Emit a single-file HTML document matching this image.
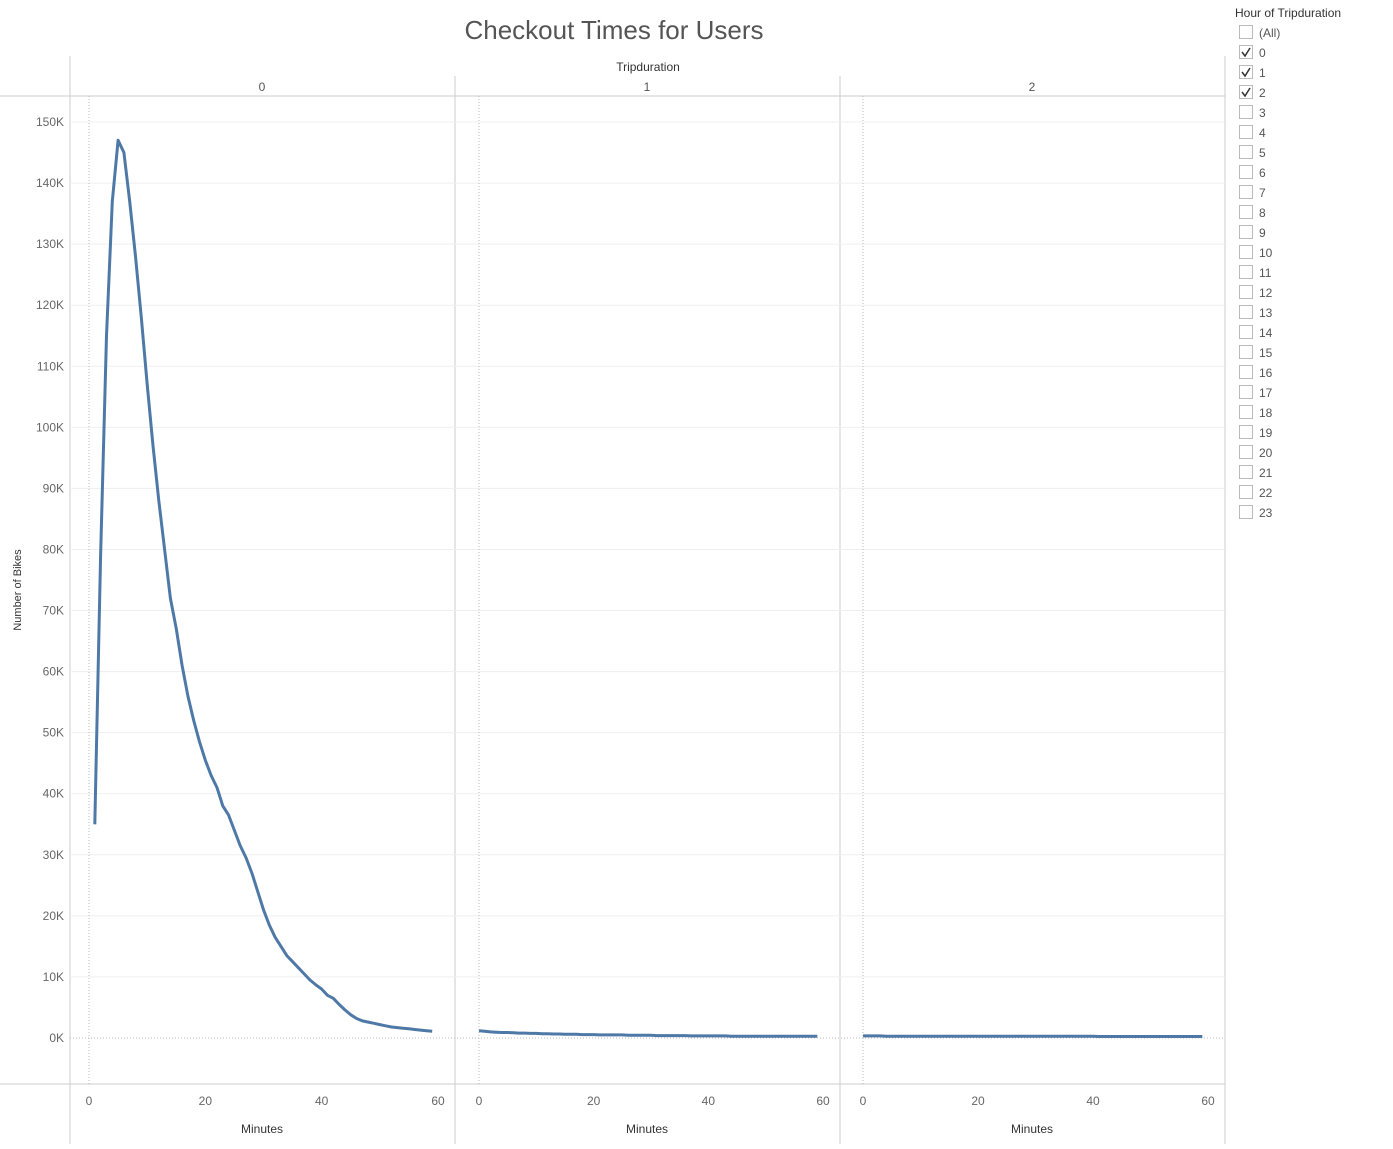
<!DOCTYPE html>
<html><head><meta charset="utf-8"><style>
body{margin:0;background:#fff;font-family:"Liberation Sans",sans-serif}
svg text{font-family:"Liberation Sans",sans-serif}
</style></head><body>
<svg id="c" width="1393" height="1144" xmlns="http://www.w3.org/2000/svg"></svg>
<script>
const panels=["0","1","2"];
const yTicks=[0,10,20,30,40,50,60,70,80,90,100,110,120,130,140,150];
const xTicks=[0,20,40,60];
const series0=[35,79,115,137,147,145,137,128,118,107,97,88,80,72,67,61,56,52,48.5,45.5,43,41,38,36.5,34,31.5,29.5,27,24,21,18.5,16.5,15,13.5,12.5,11.5,10.5,9.5,8.7,8,7,6.5,5.5,4.6,3.8,3.2,2.8,2.6,2.4,2.2,2,1.8,1.7,1.6,1.5,1.4,1.3,1.2,1.1];
const series1=[1.2,1.1,1.0,0.95,0.9,0.9,0.85,0.8,0.8,0.75,0.75,0.7,0.7,0.65,0.65,0.6,0.6,0.6,0.55,0.55,0.55,0.5,0.5,0.5,0.5,0.5,0.45,0.45,0.45,0.45,0.45,0.4,0.4,0.4,0.4,0.4,0.4,0.35,0.35,0.35,0.35,0.35,0.35,0.35,0.3,0.3,0.3,0.3,0.3,0.3,0.3,0.3,0.3,0.3,0.3,0.3,0.3,0.3,0.3,0.3];
const series2=[0.35,0.35,0.35,0.35,0.3,0.3,0.3,0.3,0.3,0.3,0.3,0.3,0.3,0.3,0.3,0.3,0.3,0.3,0.3,0.3,0.3,0.3,0.3,0.3,0.3,0.3,0.3,0.3,0.3,0.3,0.3,0.3,0.3,0.3,0.3,0.3,0.3,0.3,0.3,0.3,0.3,0.25,0.25,0.25,0.25,0.25,0.25,0.25,0.25,0.25,0.25,0.25,0.25,0.25,0.25,0.25,0.25,0.25,0.25,0.25];
const allSeries=[series0,series1,series2];
const startMin=[1,0,0];
const legendItems=["(All)","0","1","2","3","4","5","6","7","8","9","10","11","12","13","14","15","16","17","18","19","20","21","22","23"];
const checked=["0","1","2"];

const svg=document.getElementById('c');
const NS="http://www.w3.org/2000/svg";
function el(t,a,p){const e=document.createElementNS(NS,t);for(const k in a)e.setAttribute(k,a[k]);(p||svg).appendChild(e);return e;}
const y=v=>1038-(v/150)*(1038-122);
const px0=[89,479,863],pw=[349,344,345];
const xf=(i,m)=>px0[i]+m/60*pw[i];

let t=el('text',{x:614,y:39,'text-anchor':'middle','font-size':26,fill:'#555'});t.textContent='Checkout Times for Users';


// frame lines
el('line',{x1:70,y1:56,x2:70,y2:1144,stroke:'#ccc'});
el('line',{x1:1225,y1:56,x2:1225,y2:1144,stroke:'#ccc'});
el('line',{x1:0,y1:96,x2:1225,y2:96,stroke:'#ccc'});
el('line',{x1:0,y1:1084,x2:1225,y2:1084,stroke:'#ccc'});
[455,840].forEach(x=>el('line',{x1:x,y1:76,x2:x,y2:1144,stroke:'#ccc'}));
t=el('text',{x:648,y:71,'text-anchor':'middle','font-size':12,fill:'#333'});t.textContent='Tripduration';


// y grid & ticks
yTicks.forEach(v=>{
  el('line',{x1:70,y1:y(v),x2:1225,y2:y(v),stroke:v===0?'#bbb':'#efefef','stroke-dasharray':v===0?'1,2':''});
  const tx=el('text',{x:64,y:y(v)+4,'text-anchor':'end','font-size':12,fill:'#666'});tx.textContent=v+'K';
  
  
});
t=el('text',{x:21,y:590,'text-anchor':'middle','font-size':11,fill:'#333',transform:'rotate(-90 21 590)'});t.textContent='Number of Bikes';


panels.forEach((p,i)=>{
  const cx=[262,647,1032][i];
  let h=el('text',{x:cx,y:91,'text-anchor':'middle','font-size':12,fill:'#555'});h.textContent=p;
  
  
  el('line',{x1:px0[i],y1:96,x2:px0[i],y2:1084,stroke:'#bbb','stroke-dasharray':'1,2'});
  xTicks.forEach(m=>{const tx=el('text',{x:xf(i,m),y:1105,'text-anchor':'middle','font-size':12,fill:'#666'});tx.textContent=m;
    
    });
  h=el('text',{x:cx,y:1133,'text-anchor':'middle','font-size':12,fill:'#333'});h.textContent='Minutes';
  
  
  const d=allSeries[i].map((v,k)=>(k?'L':'M')+xf(i,startMin[i]+k).toFixed(1)+','+y(v).toFixed(1)).join(' ');
  const line=el('path',{d:d,fill:'none',stroke:'#4e79a7','stroke-width':3,'stroke-linejoin':'round'});
  
  
});
// legend
t=el('text',{x:1235,y:17,'font-size':12,fill:'#333'});t.textContent='Hour of Tripduration';


legendItems.forEach((it,k)=>{
  const yy=25+k*20;
  const g=el('g',{});
  
  
  el('rect',{x:1239.5,y:yy+0.5,width:13,height:13,fill:'#fff',stroke:'#bbb'},g);
  if(checked.includes(it))el('path',{d:`M${1242},${yy+7} L${1245},${yy+11} L${1250},${yy+3}`,fill:'none',stroke:'#333','stroke-width':1.5},g);
  const tx=el('text',{x:1259,y:yy+12,'font-size':12,fill:'#555'},g);tx.textContent=it;
});
</script>
</body></html>
